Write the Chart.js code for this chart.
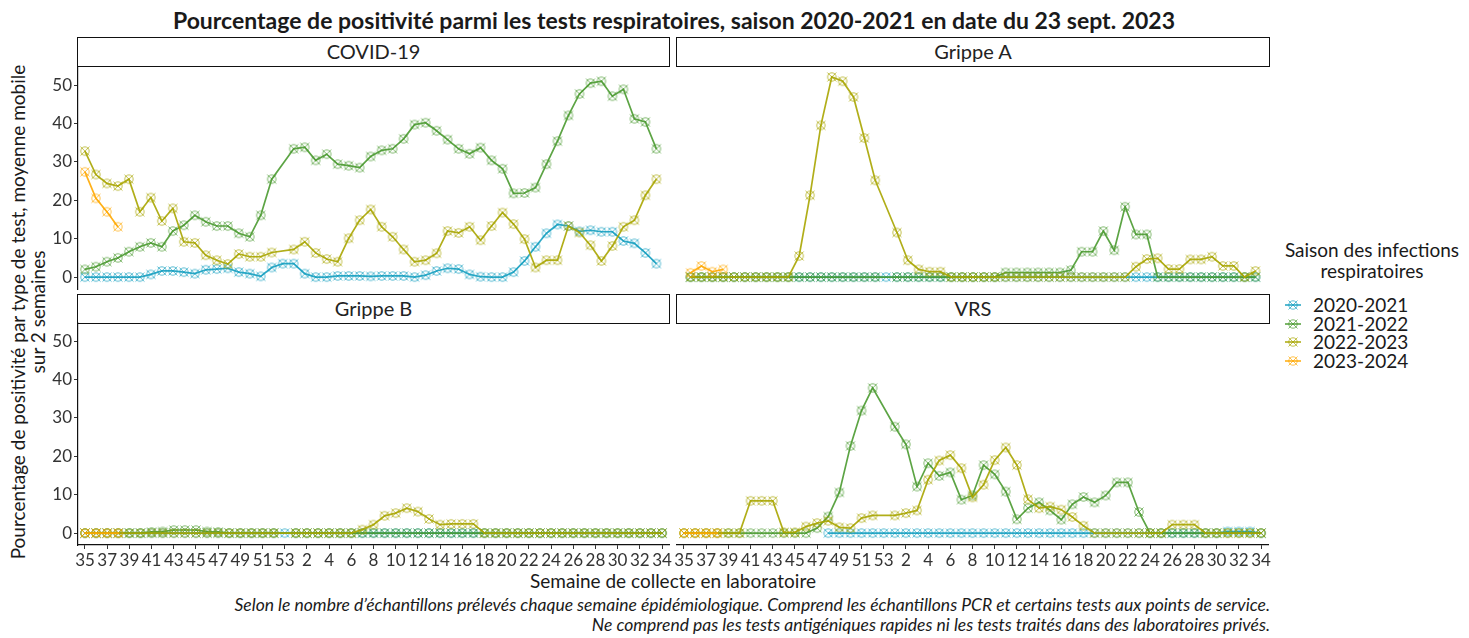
<!DOCTYPE html>
<html><head><meta charset="utf-8">
<script src="https://cdn.jsdelivr.net/npm/chart.js@4.4.0/dist/chart.umd.min.js"></script>
<style>
body{margin:0;background:#fff;width:1469px;height:638px;overflow:hidden;position:relative;font-family:Lato,"Noto Sans",sans-serif;color:#1a1a1a}
canvas{position:absolute}
.t{position:absolute;white-space:nowrap}
.strip{position:absolute;border:1.5px solid #111;box-sizing:border-box;background:#fff;text-align:center;font-size:20px;line-height:26px;color:#222}
</style></head><body>
<div class="t" id="title" style="left:674px;top:6px;transform:translateX(-50%);font-weight:bold;font-size:23px;line-height:28px;">Pourcentage de positivité parmi les tests respiratoires, saison 2020-2021 en date du 23 sept. 2023</div>
<div class="strip" style="left:77px;top:37px;width:593px;height:30px;">COVID-19</div>
<div class="strip" style="left:676px;top:37px;width:594px;height:30px;">Grippe A</div>
<div class="strip" style="left:77px;top:294px;width:593px;height:30px;">Grippe B</div>
<div class="strip" style="left:676px;top:294px;width:594px;height:30px;">VRS</div>
<div class="t" style="left:28px;top:312px;width:640px;transform:translate(-50%,-50%) rotate(-90deg);text-align:center;font-size:19px;line-height:20px;">Pourcentage de positivité par type de test, moyenne mobile<br>sur 2 semaines</div>
<div class="t" style="left:673px;top:569px;transform:translateX(-50%);font-size:19px;">Semaine de collecte en laboratoire</div>
<div class="t" style="right:199px;top:595px;font-size:17.5px;font-style:italic;text-align:right;line-height:20px;">Selon le nombre d’échantillons prélevés chaque semaine épidémiologique. Comprend les échantillons PCR et certains tests aux points de service.<br>Ne comprend pas les tests antigéniques rapides ni les tests traités dans des laboratoires privés.</div>
<div class="t" style="left:1372px;top:239px;transform:translateX(-50%);font-size:19px;line-height:21px;text-align:center;">Saison des infections<br>respiratoires</div>
<div id="legend"></div>
<script>
// ---- categories & ticks ----
const weeks = [35,36,37,38,39,40,41,42,43,44,45,46,47,48,49,50,51,52,53,1,2,3,4,5,6,7,8,9,10,11,12,13,14,15,16,17,18,19,20,21,22,23,24,25,26,27,28,29,30,31,32,33,34];
const tickLabels = ['35','37','39','41','43','45','47','49','51','53','2','4','6','8','10','12','14','16','18','20','22','24','26','28','30','32','34'];
const yTicks = [0,10,20,30,40,50];
const seasons = ['2020-2021','2021-2022','2022-2023','2023-2024'];
const colors = ['#159fc0','#4a9a30','#a8a500','#ffa800'];

// ---- COVID-19 ----
const covid_2020_2021 = [0,0,0,0,0,0,0.7,1.6,1.6,1.3,0.9,1.9,2.1,2.3,1.3,0.9,0.2,2.5,3.5,3.5,0.9,0,0,0.3,0.3,0.3,0.2,0.3,0.3,0.3,0,0.5,1.6,2.3,2.1,0.7,0.1,0,0,1.3,4.2,7.9,11.4,13.7,13.3,11.9,12.2,11.8,11.8,9.4,8.8,6.3,3.5];
const covid_2021_2022 = [2.0,2.7,4.0,5.0,6.6,7.9,8.9,7.9,12.0,13.5,16.1,14.4,13.3,13.3,11.4,10.5,16.1,25.5,null,33.4,33.8,30.4,32.0,29.4,29.0,28.5,31.4,33.0,33.4,36.0,39.7,40.2,38.1,35.8,33.4,32.1,33.7,30.4,28.2,21.8,21.9,23.3,29.4,35.4,42.1,47.7,50.5,51.0,47.1,48.9,41.2,40.4,33.4];
const covid_2022_2023 = [32.8,26.7,24.4,23.7,25.5,17.0,20.7,14.6,17.9,9.2,8.9,5.7,4.4,3.4,6.0,5.3,5.3,6.4,null,7.2,9.2,6.3,4.7,4.0,10.1,14.8,17.6,13.1,10.5,7.2,4.0,4.4,6.2,12.0,11.5,13.1,9.6,13.3,16.8,13.8,9.9,2.5,4.4,4.4,13.3,11.6,8.3,4.2,8.1,13.1,14.8,21.3,25.5];
const covid_2023_2024 = [27.4,20.5,17.0,13.1];

// ---- Grippe A ----
const grippeA_2020_2021 = [0,0,0,0,0,0,0,0,0,0,0,0,0,0,0,0,0,0,0,0,0,0,0,0,0,0,0,0,0,0,0,0,0,0,0,0,0,0,0,0,0,0,0,0,0,0,0,0,0,0,0,0,0];
const grippeA_2021_2022 = [0,0,0,0,0,0,0,0,0,0,0,0,0,0,0,0,0,0,null,0,0,0,0,0,0,0,0,0,0,1.2,1.2,1.2,1.2,1.2,1.2,1.8,6.6,6.6,12.0,7.0,18.3,11.1,11.1,0,0,0,0,0,0,0,0,0,0];
const grippeA_2022_2023 = [0,0,0,0,0,0,0,0,0,0,5.5,21.3,39.5,52.1,51.0,46.9,36.2,25.2,null,11.6,4.4,2.0,1.4,1.4,0,0,0,0,0,0,0,0,0,0,0,0,0,0,0,0,0,2.7,4.7,4.9,2.1,2.1,4.6,4.6,5.3,2.9,2.9,0,1.6];
const grippeA_2023_2024 = [1.1,2.9,1.4,2.0];

// ---- Grippe B ----
const grippeB_2020_2021 = [0,0,0,0,0,0,0,0,0,0,0,0,0,0,0,0,0,0,0,0,0,0,0,0,0,0,0,0,0,0,0,0,0,0,0,0,0,0,0,0,0,0,0,0,0,0,0,0,0,0,0,0,0];
const grippeB_2021_2022 = [0,0,0,0,0,0,0.3,0.4,0.8,0.8,0.8,0.4,0.3,0,0,0,0,0,null,0,0,0,0,0,0,0,0,0,0,0,0,0,0,0,0,0,0,0,0,0,0,0,0,0,0,0,0,0,0,0,0,0,0];
const grippeB_2022_2023 = [0,0,0,0,0,0,0,0,0,0,0,0,0,0,0,0,0,0,null,0,0,0,0,0,0,0.9,2.2,4.5,5.2,6.5,5.6,3.7,2.2,2.4,2.4,2.4,0,0,0,0,0,0,0,0,0,0,0,0,0,0,0,0,0];
const grippeB_2023_2024 = [0,0,0,0];

// ---- VRS ----
const vrs_2020_2021 = [null,null,null,null,null,null,null,null,null,null,null,null,null,0,0,0,0,0,0,0,0,0,0,0,0,0,0,0,0,0,0,0,0,0,0,0,0,0,0,0,0,0,0,0,0,0,0,0,0,0.4,0.4,0.4,0];
const vrs_2021_2022 = [0,0,0,0,0,0,0,0,0,0,0,0,1.3,4.3,10.6,22.7,31.9,37.8,null,27.7,23.1,12.1,18.2,14.9,15.8,8.7,9.8,17.7,15.3,10.8,3.6,6.5,8.0,5.9,3.5,7.5,9.4,8.0,9.8,13.2,13.2,5.5,0,0,0,0,0,0,0,0,0,0,0];
const vrs_2022_2023 = [0,0,0,0,0,0,8.4,8.4,8.4,0.2,0.2,1.7,2.6,3.2,1.5,1.3,3.9,4.6,null,4.6,5.2,5.9,13.9,18.9,20.3,16.9,9.3,12.6,19.0,22.3,17.7,8.8,6.5,6.9,6.1,4.2,1.9,0,0,0,0,0,0,0,2.2,2.2,2.2,0,0,0,0,0,0];
const vrs_2023_2024 = [0,0,0,0];

// ---- helpers ----
function rgba(hex, a){const n=parseInt(hex.slice(1),16);return `rgba(${n>>16},${(n>>8)&255},${n&255},${a})`;}
function makeMarker(hex){
  const c=document.createElement('canvas');c.width=12;c.height=12;
  const g=c.getContext('2d');g.strokeStyle=rgba(hex,0.7);g.lineWidth=1;
  g.beginPath();g.arc(6,6,4.2,0,2*Math.PI);g.stroke();
  g.beginPath();g.moveTo(1.5,1.5);g.lineTo(10.5,10.5);g.moveTo(10.5,1.5);g.lineTo(1.5,10.5);g.stroke();
  return c;
}
const markers = colors.map(makeMarker);
const tickIdx = tickLabels.map((_,k)=>2*k);
const FONT = {family:'Lato, "Noto Sans", sans-serif', size:17};

function panel(left, top, w, h, pad, showX, showY, series){
  const cv=document.createElement('canvas');
  cv.width=w;cv.height=h;cv.style.left=left+'px';cv.style.top=top+'px';
  document.body.appendChild(cv);
  new Chart(cv,{
    type:'line',
    data:{datasets:series.map((vals,k)=>({
      label:seasons[k],
      data:vals.map((v,i)=>({x:i,y:v})),
      borderColor:rgba(colors[k],0.9),
      backgroundColor:rgba(colors[k],0.9),
      borderWidth:1.7,
      pointStyle:markers[k],
      pointRadius:5,
      spanGaps:true,
      tension:0,
      order:3-k,
      clip:false
    }))},
    options:{
      responsive:false,animation:false,events:[],
      layout:{padding:pad},
      plugins:{legend:{display:false},tooltip:{enabled:false}},
      scales:{
        x:{type:'linear',min:-0.63,max:52.63,display:showX,
          afterBuildTicks:s=>{s.ticks=tickIdx.map(v=>({value:v}));},
          afterFit:s=>{if(showX) s.height=30;},
          grid:{display:true,drawOnChartArea:false,drawTicks:true,tickLength:4,color:'#333'},
          border:{display:true,color:'#111',width:1.2},
          ticks:{font:FONT,color:'#333',padding:1,autoSkip:false,maxRotation:0,minRotation:0,
            callback:(v,i)=>tickLabels[i]}},
        y:{type:'linear',min:-3.1,max:54.7,display:showY,
          afterBuildTicks:s=>{s.ticks=yTicks.map(v=>({value:v}));},
          afterFit:s=>{if(showY) s.width=78;},
          grid:{display:true,drawOnChartArea:false,drawTicks:true,tickLength:4,color:'#333'},
          border:{display:true,color:'#111',width:1.2},
          ticks:{font:FONT,color:'#333',padding:2,callback:v=>String(v)}}
      }
    }
  });
}

// chart areas: top row y 67..289, bottom row y 323..545; left x 78..669, right x 677..1268
panel(0,53,670,250,{left:0,right:1,top:14,bottom:14},false,true,[covid_2020_2021,covid_2021_2022,covid_2022_2023,covid_2023_2024]);
panel(677,53,592,250,{left:0,right:1,top:14,bottom:14},false,false,[grippeA_2020_2021,grippeA_2021_2022,grippeA_2022_2023,grippeA_2023_2024]);
panel(0,309,680,266,{left:0,right:11,top:14,bottom:0},true,true,[grippeB_2020_2021,grippeB_2021_2022,grippeB_2022_2023,grippeB_2023_2024]);
panel(657,309,632,266,{left:20,right:21,top:14,bottom:0},true,false,[vrs_2020_2021,vrs_2021_2022,vrs_2022_2023,vrs_2023_2024]);

// ---- legend ----
const lg=document.getElementById('legend');
seasons.forEach((s,k)=>{
  const y=296+k*18.7;
  const c=document.createElement('canvas');c.width=20;c.height=14;
  c.style.left='1283px';c.style.top=(y+2)+'px';
  const g=c.getContext('2d');
  g.strokeStyle=rgba(colors[k],0.9);g.lineWidth=1.6;g.beginPath();g.moveTo(2,7);g.lineTo(18,7);g.stroke();
  g.drawImage(markers[k],4,1);
  lg.appendChild(c);
  const d=document.createElement('div');d.className='t';d.textContent=s;
  d.style.cssText=`left:1313px;top:${y-2}px;font-size:19px;line-height:22px;`;
  lg.appendChild(d);
});
</script>
</body></html>
